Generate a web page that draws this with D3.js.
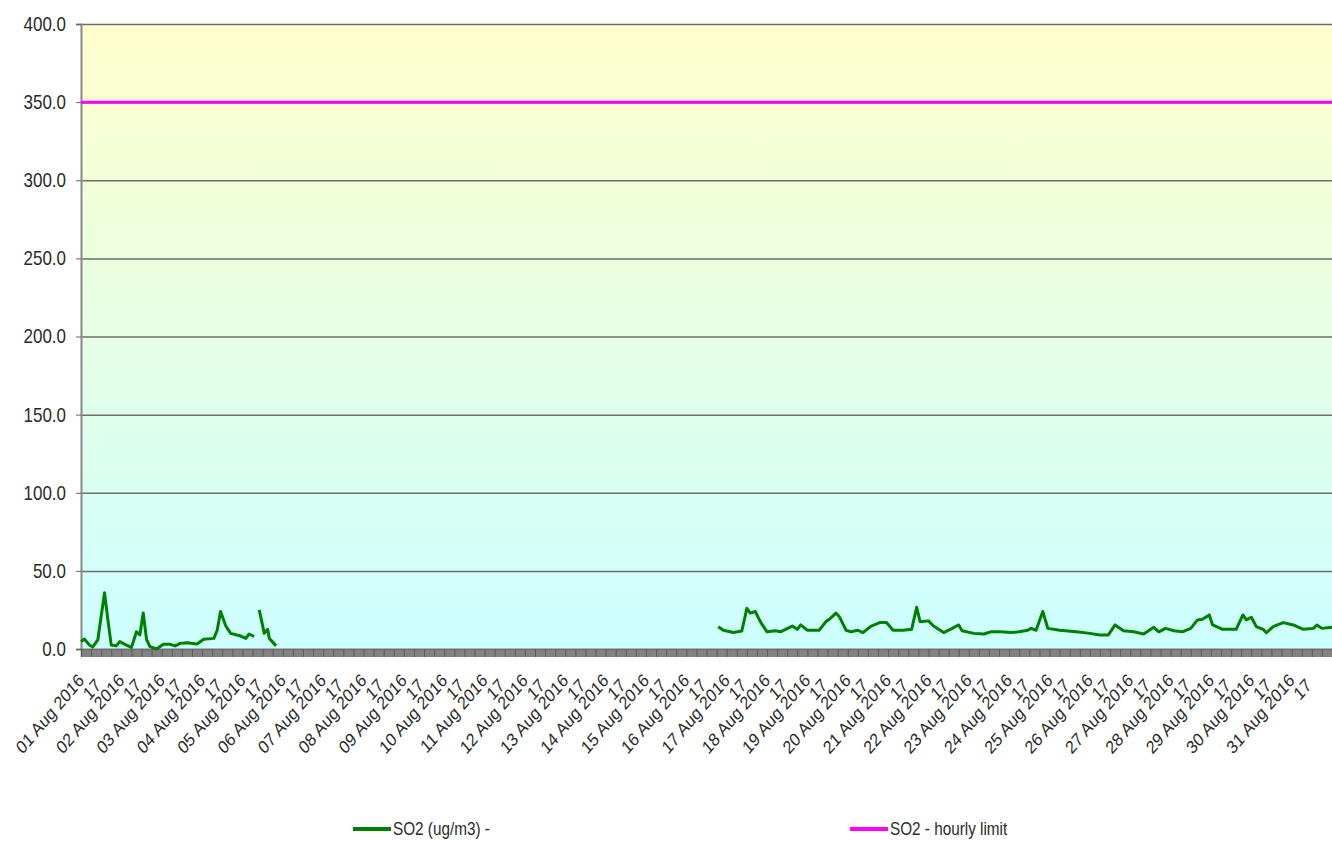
<!DOCTYPE html>
<html>
<head>
<meta charset="utf-8">
<script src="https://cdn.jsdelivr.net/npm/d3@7.9.0/dist/d3.min.js"></script>
<style>
  html, body { margin: 0; padding: 0; background: #fff; overflow: hidden; }
  svg { display: block; }
</style>
</head>
<body>
<div id="chart"></div>
<script>
// hours counted from 01 Aug 2016 00:00, null breaks the line
const so2Hours = [
  0, 2, 5, 7, 10, 14, 16, 18, 21, 23, 27, 30, 33, 35, 37, 39, 41, 45, 49, 53,
  56, 59, 63, 69, 73, 79, 81, 83, 86, 89, 95, 98, 100, 103, 105, 106, 109, 111, 112, 116,
  117,
  379, 382, 388, 393, 396, 398, 401, 404, 408, 413, 416, 423, 426, 428, 432, 439, 443, 445, 449, 451,
  455, 458, 462, 465, 470, 475, 479, 483, 489, 494, 497, 499, 504, 507, 513, 517, 522, 524, 531, 537,
  541, 547, 553, 558, 563, 565, 568, 572, 575, 582, 592, 600, 606, 611, 615, 620, 626, 632, 638, 641,
  645, 650, 655, 660, 664, 667, 671, 673, 679, 687, 691, 693, 696, 699, 703, 705, 709, 715, 721, 727,
  733, 735, 738, 744
];
const so2Values = [
  4.7, 6.4, 2.6, 1.3, 5.8, 36, 18.5, 2.5, 2, 4.7, 2.5, 1, 11, 9, 23, 6, 1.5, 0, 3, 3,
  2, 3.6, 4, 3.2, 6.2, 6.8, 12, 24, 15, 10, 8.3, 6.8, 9.6, 8, null, 25, 10, 12.6, 6.8, 2,
  null,
  14.3, 12, 10.6, 11.5, 26, 23, 24, 17.5, 11, 11.7, 11, 14.7, 12.6, 15.4, 12, 12, 17.5, 19, 23, 20.7,
  12, 11, 12, 10.5, 14.7, 16.9, 16.9, 12, 12, 12.6, 26.7, 17.5, 18, 14.7, 10.5, 12.6, 15.4, 11.7, 10, 9.6,
  11, 11, 10.5, 11, 12, 13.2, 12, 24, 13.2, 12, 11, 10, 9, 9, 15.4, 11.7, 11, 9.6, 13.9, 11,
  13.2, 11.7, 11, 13.2, 18.6, 19, 21.8, 15.4, 12.6, 12.6, 21.8, 18.6, 20.3, 14.3, 12.6, 10.5, 14.3, 16.9, 15.4, 12.6,
  13.2, 15.4, 13.2, 13.9
];
const hourlyLimit = 350;
const yTicks = [0, 50, 100, 150, 200, 250, 300, 350, 400];
const days = d3.range(1, 32);
const subLabel = '17';
const legendItems = [
  { label: 'SO2 (ug/m3)  -', color: '#008000' },
  { label: 'SO2 - hourly limit', color: '#ff00ff' }
];

const width = 1332, height = 841;
const margin = { top: 24, right: 0, bottom: 192, left: 81 };
const start = new Date(Date.UTC(2016, 7, 1));
const end = new Date(Date.UTC(2016, 8, 1));
const hourToDate = (h) => new Date(start.getTime() + h * 3600e3);
const squish = 'scale(0.85,1)'; // original text looks horizontally compressed

const svg = d3.select('#chart').append('svg')
  .attr('width', width)
  .attr('height', height);

const x = d3.scaleUtc().domain([start, end]).range([margin.left, width - margin.right]);
const y = d3.scaleLinear().domain([0, 400]).range([height - margin.bottom, margin.top]);

const font = '"Liberation Sans", Arial, sans-serif';

// background gradient
const grad = svg.append('defs').append('linearGradient')
  .attr('id', 'bg').attr('x1', 0).attr('y1', 0).attr('x2', 0).attr('y2', 1);
grad.append('stop').attr('offset', '0%').attr('stop-color', '#ffffcc');
grad.append('stop').attr('offset', '100%').attr('stop-color', '#ccffff');

svg.append('rect')
  .attr('x', margin.left).attr('y', y(400))
  .attr('width', width - margin.right - margin.left)
  .attr('height', y(0) - y(400))
  .attr('fill', 'url(#bg)');

// gridlines
const grid = svg.append('g')
  .attr('transform', `translate(${margin.left},0)`)
  .call(d3.axisLeft(y).tickValues(yTicks).tickSize(-(width - margin.left - margin.right)).tickFormat(''));
grid.select('.domain').remove();
grid.selectAll('line').attr('stroke', '#6e6e6e').attr('stroke-width', 1.5);

// y axis
const yAxis = svg.append('g')
  .attr('transform', `translate(${margin.left},0)`)
  .call(d3.axisLeft(y).tickValues(yTicks).tickSize(5).tickFormat(d3.format('.1f')));
yAxis.select('.domain').attr('stroke', '#888').attr('stroke-width', 2);
yAxis.selectAll('.tick line').attr('stroke', '#666');
yAxis.selectAll('text')
  .attr('x', 0)
  .attr('transform', `translate(-15,0) ${squish}`)
  .attr('fill', '#2a2a2a')
  .style('font-family', font)
  .style('font-size', '20px');

// grey band under the plot with dense hourly ticks
svg.append('rect')
  .attr('x', x(start)).attr('y', y(0))
  .attr('width', x(end) - x(start)).attr('height', 8)
  .attr('fill', '#8a8a8a');

const band = svg.append('g')
  .attr('transform', `translate(0,${y(0)})`)
  .call(d3.axisBottom(x).ticks(d3.utcHour.every(1)).tickSize(8).tickFormat(''));
band.select('.domain').attr('stroke', '#666').attr('stroke-width', 1.5);
band.selectAll('.tick line').attr('stroke', '#7a7a7a').attr('stroke-width', 0.8);

const band6 = svg.append('g')
  .attr('transform', `translate(0,${y(0)})`)
  .call(d3.axisBottom(x).ticks(d3.utcHour.every(6)).tickSize(8).tickFormat(''));
band6.select('.domain').remove();
band6.selectAll('.tick line').attr('stroke', '#5a5a5a').attr('stroke-width', 1);

// x labels
const fmt = d3.utcFormat('%d %b %Y');
const xLab = svg.append('g').style('font-family', font).style('font-size', '18.5px').attr('fill', '#2a2a2a');
days.forEach((d) => {
  const t = new Date(Date.UTC(2016, 7, d));
  xLab.append('text')
    .attr('transform', `translate(${x(t)},${y(0) + 28}) ${squish} rotate(-45)`)
    .attr('text-anchor', 'end')
    .attr('dy', '0.35em')
    .text(fmt(t));
  const t2 = new Date(t.getTime() + 0.42 * 86400e3);
  xLab.append('text')
    .attr('transform', `translate(${x(t2)},${y(0) + 33}) ${squish} rotate(-45)`)
    .attr('text-anchor', 'end')
    .attr('dy', '0.35em')
    .text(subLabel);
});

// hourly limit
svg.append('line')
  .attr('x1', x(start)).attr('x2', x(end))
  .attr('y1', y(hourlyLimit)).attr('y2', y(hourlyLimit))
  .attr('stroke', '#ff00ff').attr('stroke-width', 3);

// SO2 series
const rows = so2Hours.map((h, i) => ({ t: hourToDate(h), v: so2Values[i] }));
const line = d3.line()
  .defined((d) => d.v !== null)
  .x((d) => x(d.t))
  .y((d) => y(d.v));

svg.append('path')
  .datum(rows)
  .attr('fill', 'none')
  .attr('stroke', '#008000')
  .attr('stroke-width', 3)
  .attr('stroke-linejoin', 'round')
  .attr('d', line);

// legend
const legendX = [353, 850];
const legend = svg.append('g').style('font-family', font).style('font-size', '18px');
legendItems.forEach((item, i) => {
  legend.append('line')
    .attr('x1', legendX[i]).attr('x2', legendX[i] + 38)
    .attr('y1', 829).attr('y2', 829)
    .attr('stroke', item.color).attr('stroke-width', 4);
  legend.append('text')
    .attr('transform', `translate(${legendX[i] + 40},829) ${squish}`)
    .attr('dy', '0.35em')
    .attr('fill', '#2a2a2a')
    .text(item.label);
});
</script>
</body>
</html>
